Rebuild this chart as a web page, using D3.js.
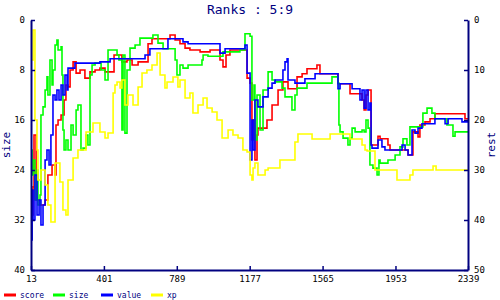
<!DOCTYPE html>
<html>
<head>
<meta charset="utf-8">
<script src="https://cdn.jsdelivr.net/npm/d3@7"></script>
<style>
  body { margin: 0; background: #fff; }
  svg { display: block; }
</style>
</head>
<body>
<div id="chart"></div>
<script>
// Ranks chart: step lines of four series over turn number
const xTicks = [13, 401, 789, 1177, 1565, 1953, 2339];
const leftTicks = [0, 8, 16, 24, 32, 40];
const rightTicks = [0, 10, 20, 30, 40, 50];

// [turn, rank] pairs (score, size, value on left axis)
const score = [
  [13, 28.8], [19, 31.2], [24, 26.7], [29, 18.4], [40, 28.8], [61, 29.6], [88, 28.8],
  [103, 24.8], [125, 23.2], [141, 24.8], [146, 16.8], [157, 16.0], [173, 15.2], [189, 12.8],
  [199, 10.4], [210, 10.7], [221, 8.0], [237, 6.7], [253, 8.5], [274, 8.0], [300, 9.3],
  [327, 8.3], [354, 8.0], [380, 7.7], [407, 8.3], [455, 5.6], [497, 6.7], [524, 6.4],
  [551, 7.2], [583, 6.7], [636, 3.8], [657, 3.0], [753, 2.4], [780, 3.2], [806, 3.8],
  [833, 4.5], [859, 4.8], [913, 5.1], [966, 4.8], [1019, 6.4], [1035, 7.5], [1051, 5.6],
  [1072, 4.8], [1163, 9.3], [1179, 10.1], [1189, 19.2], [1195, 16.0], [1205, 22.4],
  [1216, 18.4], [1221, 17.3], [1269, 16.0], [1296, 13.6], [1328, 11.2], [1354, 9.9],
  [1381, 11.0], [1429, 9.1], [1456, 8.6], [1482, 7.8], [1535, 7.2], [1551, 8.6],
  [1647, 10.2], [1711, 11.8], [1775, 12.8], [1786, 14.4], [1796, 12.0], [1807, 11.2],
  [1823, 20.0], [1860, 18.6], [1871, 19.0], [1913, 20.0], [1924, 20.8], [2020, 21.6],
  [2046, 17.9], [2073, 18.7], [2083, 16.8], [2110, 16.3], [2137, 15.8], [2163, 15.0],
  [2323, 15.8], [2339, 15.8]
];

const size = [
  [13, 20.8], [19, 24.8], [24, 22.4], [34, 28.8], [45, 24.0], [50, 29.6], [61, 28.0],
  [66, 15.2], [77, 13.9], [88, 11.2], [98, 9.1], [103, 12.0], [114, 6.4], [125, 10.4],
  [130, 8.0], [141, 4.0], [151, 3.2], [157, 4.8], [173, 4.3], [178, 8.8], [183, 17.6],
  [189, 20.8], [199, 19.2], [210, 20.8], [226, 16.8], [237, 18.4], [253, 14.4], [263, 13.6],
  [279, 20.8], [290, 20.5], [306, 18.4], [316, 20.0], [327, 8.8], [338, 7.2], [354, 6.9],
  [386, 8.0], [407, 9.6], [423, 4.8], [471, 5.6], [481, 6.4], [497, 17.6], [503, 5.6],
  [513, 18.1], [524, 8.0], [540, 4.5], [567, 4.0], [593, 2.9], [662, 2.4], [689, 3.7],
  [716, 4.6], [780, 6.4], [790, 8.8], [806, 7.2], [822, 7.7], [849, 7.2], [923, 6.4],
  [929, 5.6], [955, 5.8], [1035, 5.1], [1125, 4.8], [1152, 2.2], [1179, 2.6], [1189, 12.8],
  [1200, 10.4], [1205, 19.2], [1216, 12.0], [1232, 17.6], [1248, 11.2], [1275, 8.3],
  [1296, 9.6], [1312, 9.9], [1349, 10.9], [1365, 12.3], [1402, 14.4], [1418, 12.0],
  [1429, 10.9], [1482, 10.1], [1615, 9.1], [1647, 10.1], [1652, 16.8], [1658, 17.9],
  [1674, 18.9], [1700, 20.0], [1711, 18.9], [1722, 17.3], [1738, 17.9], [1775, 17.6],
  [1786, 17.9], [1796, 16.0], [1807, 17.3], [1817, 23.2], [1833, 23.7], [1855, 24.8],
  [1865, 22.4], [1871, 22.9], [1913, 22.4], [1951, 21.6], [1977, 20.3], [1993, 19.0],
  [2014, 20.0], [2030, 17.1], [2099, 14.9], [2121, 14.1], [2147, 14.9], [2163, 15.8],
  [2227, 16.8], [2259, 18.6], [2270, 17.9], [2339, 17.9]
];

const value = [
  [13, 35.2], [19, 27.2], [24, 32.0], [34, 24.8], [45, 31.2], [56, 28.8], [66, 32.8],
  [77, 29.6], [88, 22.4], [98, 20.8], [109, 23.2], [119, 18.4], [130, 12.0], [141, 12.8],
  [151, 11.2], [162, 12.8], [173, 10.4], [183, 12.0], [194, 8.8], [205, 11.2], [210, 7.7],
  [247, 6.9], [380, 6.7], [434, 6.2], [620, 5.6], [646, 4.6], [742, 3.0], [822, 3.5],
  [849, 3.8], [1019, 5.3], [1046, 4.6], [1152, 4.0], [1163, 8.5], [1179, 22.4], [1189, 16.0],
  [1195, 20.8], [1205, 12.8], [1221, 13.9], [1248, 12.3], [1275, 10.9], [1296, 10.1],
  [1312, 9.6], [1354, 8.0], [1365, 6.7], [1376, 6.2], [1381, 9.6], [1418, 10.1],
  [1471, 9.4], [1525, 8.6], [1647, 11.0], [1658, 10.2], [1722, 11.0], [1764, 12.8],
  [1775, 11.2], [1786, 14.1], [1796, 11.2], [1807, 14.4], [1817, 13.3], [1823, 20.0],
  [1828, 20.5], [1860, 19.2], [1881, 20.3], [1897, 20.8], [1988, 20.0], [2004, 20.8],
  [2020, 21.6], [2041, 17.6], [2057, 18.1], [2073, 17.3], [2094, 16.6], [2163, 15.8],
  [2217, 16.6], [2233, 15.8], [2307, 16.3], [2339, 16.3]
];

// xp is read against the right axis (rest)
const xp = [
  [13, 8.0], [24, 2.0], [34, 20.0], [45, 26.0], [50, 32.0], [66, 30.0], [88, 33.0],
  [103, 37.0], [119, 40.4], [141, 28.6], [167, 32.4], [183, 38.0], [199, 39.0], [210, 32.0],
  [237, 27.6], [263, 26.0], [306, 22.4], [343, 20.6], [380, 22.4], [407, 23.6], [423, 22.6],
  [450, 14.6], [460, 13.0], [471, 12.4], [487, 13.6], [497, 12.0], [513, 17.0], [529, 15.0],
  [556, 17.0], [583, 13.4], [604, 10.6], [630, 10.0], [657, 9.0], [684, 6.6], [700, 11.0],
  [726, 13.6], [737, 12.4], [769, 11.4], [795, 13.4], [806, 12.0], [833, 15.6], [859, 14.6],
  [875, 18.6], [902, 17.0], [929, 15.6], [950, 17.6], [977, 18.4], [1003, 20.0], [1030, 23.6],
  [1062, 22.0], [1088, 23.0], [1115, 23.6], [1141, 26.0], [1163, 26.4], [1179, 31.0],
  [1189, 32.0], [1195, 29.6], [1205, 28.6], [1221, 31.0], [1259, 30.0], [1275, 29.6],
  [1338, 28.0], [1418, 24.4], [1434, 22.8], [1509, 23.8], [1605, 22.8], [1711, 23.8],
  [1775, 25.0], [1791, 26.0], [1802, 26.2], [1844, 30.0], [1961, 32.0], [2030, 31.0],
  [2046, 30.0], [2153, 29.2], [2169, 30.0], [2339, 30.0]
];

const series = [
  { name: 'score', data: score, color: '#ff0000', axis: 'left' },
  { name: 'size', data: size, color: '#00ff00', axis: 'left' },
  { name: 'value', data: value, color: '#0000ff', axis: 'left' },
  { name: 'xp', data: xp, color: '#ffff00', axis: 'right' }
];

const W = 500, H = 300;
const margin = { top: 20, right: 32, bottom: 30, left: 31 };
const axisColor = '#000080';
const mono = '"DejaVu Sans Mono", "Liberation Mono", monospace';

const svg = d3.select('#chart').append('svg')
  .attr('width', W).attr('height', H)
  .style('font-family', mono);

const x = d3.scaleLinear().domain([13, 2339]).range([margin.left, W - margin.right]);
const yLeft = d3.scaleLinear().domain([0, 40]).range([margin.top, H - margin.bottom]);
const yRight = d3.scaleLinear().domain([0, 50]).range([margin.top, H - margin.bottom]);

// Title
svg.append('text')
  .attr('x', W / 2).attr('y', 14)
  .attr('text-anchor', 'middle')
  .attr('fill', axisColor)
  .style('font-size', '13px')
  .text('Ranks : 5:9');

// Lines (clipped to plot area)
svg.append('clipPath').attr('id', 'plot')
  .append('rect')
  .attr('x', margin.left).attr('y', margin.top)
  .attr('width', W - margin.left - margin.right)
  .attr('height', H - margin.top - margin.bottom);

const lines = svg.append('g').attr('clip-path', 'url(#plot)');
series.forEach(s => {
  const yS = s.axis === 'left' ? yLeft : yRight;
  const line = d3.line()
    .x(d => x(d[0]))
    .y(d => yS(d[1]))
    .curve(d3.curveStepAfter);
  lines.append('path')
    .datum(s.data)
    .attr('d', line)
    .attr('fill', 'none')
    .attr('stroke', s.color)
    .attr('stroke-width', 1.6);
});

// Axes, ticks pointing inward
function styleAxis(g) {
  g.select('.domain').attr('stroke', axisColor).attr('stroke-width', 2);
  g.selectAll('.tick line').attr('stroke', axisColor).attr('stroke-width', 1.5);
  g.selectAll('.tick text').attr('fill', '#000').style('font-size', '9px').style('font-family', mono);
}

svg.append('g')
  .attr('transform', `translate(0,${H - margin.bottom})`)
  .call(d3.axisBottom(x).tickValues(xTicks).tickFormat(d3.format('d'))
    .tickSizeInner(-4).tickSizeOuter(0).tickPadding(6))
  .call(styleAxis);

svg.append('g')
  .attr('transform', `translate(${margin.left},0)`)
  .call(d3.axisLeft(yLeft).tickValues(leftTicks)
    .tickSizeInner(-4).tickSizeOuter(0).tickPadding(6))
  .call(styleAxis);

svg.append('g')
  .attr('transform', `translate(${W - margin.right},0)`)
  .call(d3.axisRight(yRight).tickValues(rightTicks)
    .tickSizeInner(-4).tickSizeOuter(0).tickPadding(6))
  .call(styleAxis);

// Axis titles
svg.append('text')
  .attr('transform', `translate(10,${(margin.top + H - margin.bottom) / 2}) rotate(-90)`)
  .attr('text-anchor', 'middle')
  .attr('fill', axisColor)
  .style('font-size', '11px')
  .text('size');

svg.append('text')
  .attr('transform', `translate(${W - 5},${(margin.top + H - margin.bottom) / 2}) rotate(-90)`)
  .attr('text-anchor', 'middle')
  .attr('fill', axisColor)
  .style('font-size', '11px')
  .text('rest');

// Legend
const legendX = [4, 53, 101, 151];
const legend = svg.append('g').attr('transform', 'translate(0,295)');
series.forEach((s, i) => {
  legend.append('line')
    .attr('x1', legendX[i]).attr('x2', legendX[i] + 12)
    .attr('y1', 0).attr('y2', 0)
    .attr('stroke', s.color).attr('stroke-width', 3);
  legend.append('text')
    .attr('x', legendX[i] + 16).attr('y', 3)
    .attr('fill', axisColor)
    .style('font-size', '8px')
    .text(s.name);
});
</script>
</body>
</html>
